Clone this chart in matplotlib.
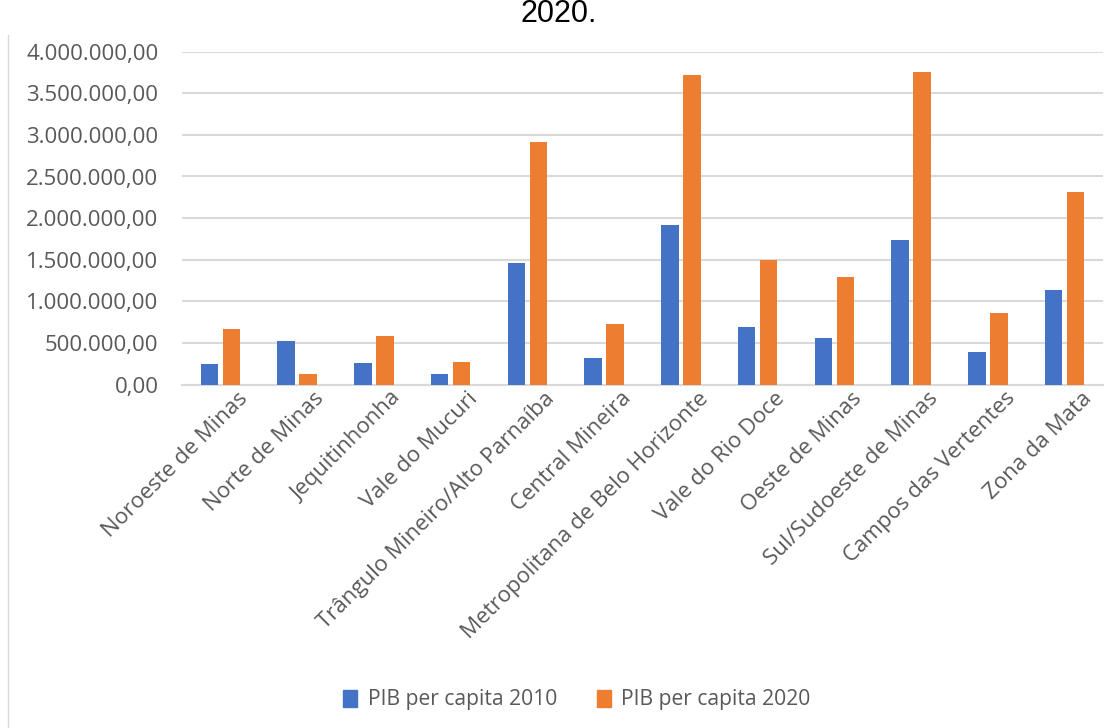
import matplotlib
matplotlib.use("Agg")
import matplotlib.pyplot as plt
import matplotlib.patches as mpatches
import matplotlib.transforms as mtrans
from matplotlib.ticker import FuncFormatter
import numpy as np

categories = ["Noroeste de Minas", "Norte de Minas", "Jequitinhonha", "Vale do Mucuri",
              "Trângulo Mineiro/Alto Parnaíba", "Central Mineira",
              "Metropolitana de Belo Horizonte", "Vale do Rio Doce", "Oeste de Minas",
              "Sul/Sudoeste de Minas", "Campos das Vertentes", "Zona da Mata"]
pib_2010 = [252000, 528000, 264000, 132000, 1465000, 324000, 1922000, 697000, 553000,
            1733000, 388000, 1133000]
pib_2020 = [673000, 132000, 577000, 276000, 2919000, 733000, 3715000, 1501000, 1297000,
            3756000, 865000, 2318000]
series_names = ["PIB per capita 2010", "PIB per capita 2020"]
yticks = [0, 500000, 1000000, 1500000, 2000000, 2500000, 3000000, 3500000, 4000000]

blue = "#4472C4"
orange = "#ED7D31"
txt = "#595959"
font = "Open Sans"
plt.rcParams["font.family"] = [font, "DejaVu Sans"]

fig = plt.figure(figsize=(11.18, 7.28), dpi=100)
ax = fig.add_axes([182/1118, 1-384.5/728, (1103-182)/1118, (384.5-51.7)/728])

x = np.arange(len(categories))
w = 0.228
off = 0.144
ax.bar(x - off, pib_2010, w, color=blue, zorder=3)
ax.bar(x + off, pib_2020, w, color=orange, zorder=3)

ax.set_xlim(-0.5, len(categories) - 0.5)
ax.set_ylim(0, 4000000)
ax.set_yticks(yticks)

def br(v, pos):
    s = f"{v:,.2f}"
    return s.replace(",", "X").replace(".", ",").replace("X", ".")
ax.yaxis.set_major_formatter(FuncFormatter(br))
ax.grid(axis="y", color="#d9d9d9", linewidth=1.5, zorder=0)
for s in ["top", "right", "left"]:
    ax.spines[s].set_visible(False)
ax.spines["bottom"].set_color("#d9d9d9")
ax.spines["bottom"].set_linewidth(1.5)
ax.tick_params(axis="both", length=0)
ax.tick_params(axis="y", pad=17, labelsize=16, labelcolor=txt)

ax.set_xticks(x)
ax.set_xticklabels(categories, rotation=45, ha="right", va="center", rotation_mode="anchor",
                   fontsize=16, color=txt)
offset = mtrans.ScaledTranslation(24/100, -6/100, fig.dpi_scale_trans)
for lab in ax.get_xticklabels():
    lab.set_transform(lab.get_transform() + offset)

fig.text(0.5, 1-22/728, "2020.", ha="center", va="baseline", fontsize=22,
         fontfamily="Liberation Sans", color="black")

handles = [mpatches.Patch(color=blue, label=series_names[0]),
           mpatches.Patch(color=orange, label=series_names[1])]
leg = fig.legend(handles=handles, loc="center", bbox_to_anchor=(577/1118, 1-700/728),
                 ncol=2, frameon=False, handlelength=0.65, handleheight=0.85,
                 handletextpad=0.5, columnspacing=1.9,
                 prop={"size": 15.2})
for t in leg.get_texts():
    t.set_color(txt)

fig.add_artist(plt.Line2D([8/1118, 8/1118], [0, 1-35/728], color="#d9d9d9", linewidth=1))

fig.savefig("out.png", dpi=100)
